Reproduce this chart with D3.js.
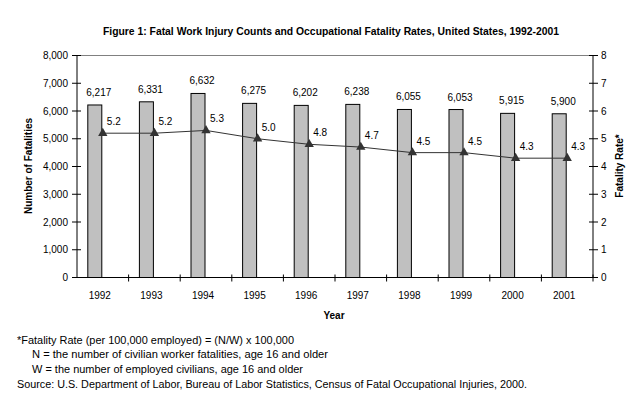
<!DOCTYPE html>
<html><head><meta charset="utf-8">
<script src="https://cdn.jsdelivr.net/npm/d3@7"></script>
<style>body{margin:0;background:#fff}svg{display:block}text{font-family:"Liberation Sans",Arial,sans-serif}</style>
</head><body><svg id="c" width="643" height="414"></svg>
<script>
const years = ["1992","1993","1994","1995","1996","1997","1998","1999","2000","2001"];
const fatalities = [6217,6331,6632,6275,6202,6238,6055,6053,5915,5900];
const rates = [5.2,5.2,5.3,5.0,4.8,4.7,4.5,4.5,4.3,4.3];
const leftTicks = [0,1000,2000,3000,4000,5000,6000,7000,8000];
const rightTicks = [0,1,2,3,4,5,6,7,8];
const title = "Figure 1: Fatal Work Injury Counts and Occupational Fatality Rates, United States, 1992-2001";
const notes = ["*Fatality Rate (per 100,000 employed) = (N/W) x 100,000",
  "N = the number of civilian worker fatalities, age 16 and older",
  "W = the number of employed civilians, age 16 and older",
  "Source: U.S. Department of Labor, Bureau of Labor Statistics, Census of Fatal Occupational Injuries, 2000."];

const svg = d3.select("#c");
const L = 77, R = 593, T = 55.5, B = 277.5;
const x = d3.scaleBand().domain(years).range([L, R]).padding(0);
const y = d3.scaleLinear().domain([0, 8000]).range([B, T]);
const y2 = d3.scaleLinear().domain([0, 8]).range([B, T]);
const cx = d => x(d) + x.bandwidth() / 2;

svg.append("text").attr("x", 331).attr("y", 35).attr("text-anchor", "middle")
  .attr("font-size", 11).attr("font-weight", "bold")
  .attr("textLength", 456).attr("lengthAdjust", "spacingAndGlyphs").text(title);

// top border
svg.append("line").attr("x1", L).attr("x2", R).attr("y1", T).attr("y2", T).attr("stroke", "#808080");

// bars
svg.selectAll("rect.bar").data(years).join("rect")
  .attr("x", (d) => cx(d) - 15).attr("width", 14)
  .attr("y", (d, i) => y(fatalities[i])).attr("height", (d, i) => B - y(fatalities[i]))
  .attr("fill", "#c0c0c0").attr("stroke", "#000").attr("stroke-width", 1);

// left axis
const gl = svg.append("g");
gl.append("line").attr("x1", L).attr("x2", L).attr("y1", T).attr("y2", B).attr("stroke", "#000");
leftTicks.forEach(t => {
  gl.append("line").attr("x1", L - 5).attr("x2", L + 4).attr("y1", y(t)).attr("y2", y(t)).attr("stroke", "#000");
  gl.append("text").attr("x", L - 9).attr("y", y(t) + 3.5).attr("text-anchor", "end").attr("font-size", 10).text(d3.format(",")(t));
});
// right axis
const gr = svg.append("g");
gr.append("line").attr("x1", R).attr("x2", R).attr("y1", T).attr("y2", B).attr("stroke", "#000");
rightTicks.forEach(t => {
  gr.append("line").attr("x1", R - 4).attr("x2", R + 5).attr("y1", y2(t)).attr("y2", y2(t)).attr("stroke", "#000");
  gr.append("text").attr("x", R + 8).attr("y", y2(t) + 3.5).attr("text-anchor", "start").attr("font-size", 10).text(t);
});
// x axis
const gx = svg.append("g");
gx.append("line").attr("x1", L).attr("x2", R).attr("y1", B).attr("y2", B).attr("stroke", "#000");
years.forEach((d, i) => {
  const xx = x(d) + x.bandwidth();
  gx.append("line").attr("x1", xx).attr("x2", xx).attr("y1", B - 3).attr("y2", B + 4).attr("stroke", "#000");
  gx.append("text").attr("x", cx(d) - 3).attr("y", B + 21).attr("text-anchor", "middle").attr("font-size", 10).text(d);
});

// count labels
svg.selectAll("text.cnt").data(years).join("text")
  .attr("x", d => cx(d) - 4).attr("y", (d, i) => y(fatalities[i]) - 9)
  .attr("text-anchor", "middle").attr("font-size", 10).text((d, i) => d3.format(",")(fatalities[i]));

// rate line
const line = d3.line().x((d, i) => cx(years[i])).y(d => y2(d));
svg.append("path").datum(rates).attr("d", line).attr("fill", "none").attr("stroke", "#333").attr("stroke-width", 1);
svg.selectAll("path.mk").data(rates).join("path")
  .attr("d", d3.symbol().type(d3.symbolTriangle).size(38))
  .attr("transform", (d, i) => `translate(${cx(years[i])},${y2(d)})`).attr("fill", "#333");
svg.selectAll("text.rt").data(rates).join("text")
  .attr("x", (d, i) => cx(years[i]) + 11).attr("y", d => y2(d) - 8)
  .attr("text-anchor", "middle").attr("font-size", 10).text(d => d.toFixed(1));

// axis titles
svg.append("text").attr("transform", "translate(32,166) rotate(-90)").attr("text-anchor", "middle")
  .attr("font-size", 10).attr("font-weight", "bold").text("Number of Fatalities");
svg.append("text").attr("transform", "translate(623,166) rotate(-90)").attr("text-anchor", "middle")
  .attr("font-size", 10).attr("font-weight", "bold").text("Fatality Rate*");
svg.append("text").attr("x", 334).attr("y", 319).attr("text-anchor", "middle")
  .attr("font-size", 10).attr("font-weight", "bold").text("Year");

// notes
const nx = [17, 32, 32, 17], ny = [344, 358, 373, 388], nw = [277, 296, 271, 510];
notes.forEach((t, i) => {
  svg.append("text").attr("x", nx[i]).attr("y", ny[i]).attr("font-size", 10)
    .attr("textLength", nw[i]).attr("lengthAdjust", "spacingAndGlyphs").text(t);
});
</script></body></html>
